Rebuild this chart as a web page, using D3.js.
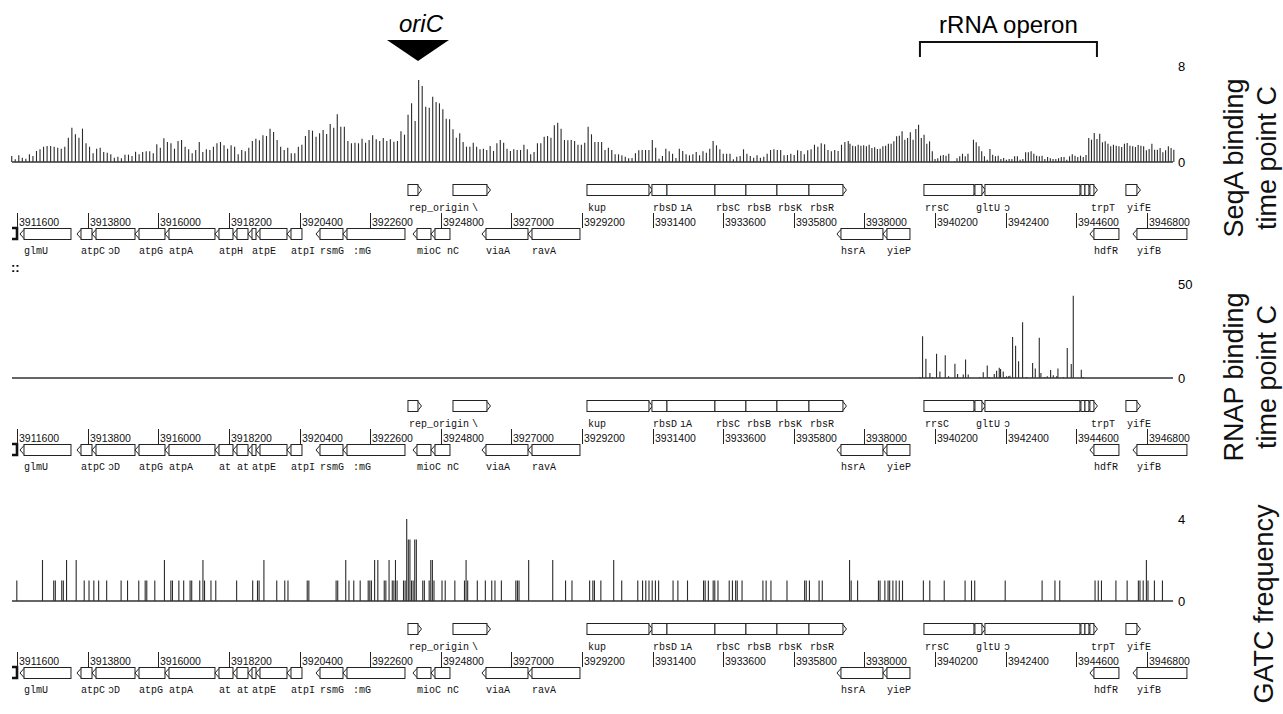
<!DOCTYPE html>
<html>
<head>
<meta charset="utf-8">
<script src="https://cdn.jsdelivr.net/npm/d3@7"></script>
<style>
body { margin: 0; background: #fff; }
svg text { font-family: "Liberation Sans", Arial, sans-serif; }
.gl { font-family: "Liberation Mono", "DejaVu Sans Mono", monospace; font-size: 10px; fill: #111; }
.tk { font-size: 10.5px; fill: #111; }
</style>
</head>
<body>
<svg id="chart" width="1283" height="714"></svg>
<script>
// genome window (bp) shown in all three tracks
var viewStart = 3911435, viewEnd = 3947614;
var coordTicks = [3911600, 3913800, 3916000, 3918200, 3920400, 3922600, 3924800, 3927000, 3929200,
	3931400, 3933600, 3935800, 3938000, 3940200, 3942400, 3944600, 3946800];

// top annotations
var oriCPos = 3924086;
var rrnOperon = [3939728, 3945244];

// SeqA ChIP signal, three probe stretches, each evenly spread over its span (bp)
var seqaSpans = [[3911426, 3924438], [3924545, 3937494], [3937547, 3947640]];
var seqaLeft = [0.50,0.22,0.56,0.36,0.28,0.64,0.50,0.92,1.06,1.28,
	1.33,1.33,1.28,1.19,1.11,1.28,2.03,2.86,2.31,2.03,
	2.78,1.56,1.28,0.72,1.11,1.19,0.83,0.78,0.64,0.36,
	0.44,0.31,0.61,0.61,0.50,0.86,0.64,0.83,0.89,0.89,
	0.72,1.47,1.19,1.97,1.67,1.56,1.11,1.75,1.83,1.28,
	1.06,0.72,1.00,1.67,0.83,1.06,1.00,1.28,1.56,1.67,
	1.39,1.11,1.39,1.28,0.64,1.00,0.89,1.19,1.75,1.94,
	1.81,2.22,2.17,2.78,2.50,1.83,1.28,1.00,1.19,0.72,
	0.72,1.28,1.44,2.17,2.67,2.61,2.11,2.39,2.67,2.33,
	3.17,2.86,3.97,2.94,2.94,1.75,1.56,1.61,1.56,1.94,
	1.61,1.83,2.22,1.89,1.75,2.00,1.75,1.89,1.69,1.75,
	2.56,2.28,3.94,4.89,3.42,6.83,6.33,4.61,4.53];
var seqaMid = [5.44,5.00,4.89,4.39,3.61,3.56,2.72,2.03,2.39,1.67,
	1.28,1.28,1.61,1.28,1.06,1.11,1.00,1.33,0.92,1.56,
	1.83,1.61,1.11,0.92,1.06,1.00,1.00,1.44,1.06,0.64,
	0.83,1.56,1.56,2.11,2.17,2.03,3.06,3.28,2.78,1.83,
	1.81,1.83,1.75,1.44,1.44,1.61,2.94,2.31,1.67,1.67,
	1.67,1.00,1.19,1.00,0.64,0.64,0.56,0.44,0.31,0.33,
	0.72,0.97,1.00,1.00,1.00,1.83,1.19,0.28,0.50,1.11,
	0.89,0.69,0.33,1.11,0.92,0.64,0.56,0.64,0.83,0.56,
	0.89,0.78,1.11,1.75,1.39,1.06,0.69,0.69,0.69,0.22,
	0.44,0.50,1.06,0.69,0.50,0.36,0.56,0.36,0.44,0.69,
	1.00,1.06,1.00,1.00,0.56,0.58,0.69,0.58,0.97,0.92,
	0.64,0.97,1.06,1.44,1.28,1.56,1.47,1.00,0.89,1.00,
	0.92,1.44,1.67,1.75];
var seqaRight = [1.53,1.36,1.31,1.44,1.36,1.39,1.31,1.44,1.17,1.22,
	1.08,1.11,1.31,1.36,1.53,1.53,1.72,2.14,2.19,2.56,
	1.86,2.00,2.47,1.86,2.75,3.11,2.00,2.28,1.53,1.72,
	0.89,0.25,0.31,0.53,0.58,0.53,0.69,0.03,0.06,0.31,
	0.47,0.69,0.47,0.69,0.06,1.86,1.64,1.31,0.89,0.47,
	0.19,1.08,0.61,0.47,0.53,0.25,0.33,0.19,0.25,0.25,
	0.47,0.47,0.19,0.25,0.81,0.81,0.89,0.69,0.53,0.47,
	0.53,0.25,0.42,0.31,0.25,0.25,0.31,0.42,0.42,0.19,
	0.47,0.64,0.53,0.42,0.53,0.42,0.58,2.00,1.86,2.42,
	1.92,2.36,1.64,1.72,1.53,1.31,1.44,1.36,1.31,1.25,
	1.53,1.58,1.36,1.31,1.25,1.42,1.36,1.31,0.97,1.08,
	1.53,1.03,1.03,1.17,0.81,0.97,1.31,1.17,1.03];

// RNAP ChIP signal (bp position, value)
var rnapPos = [3939727,3939810,3939914,3940039,3940122,3940246,3940350,3940517,3940620,3940818,
	3940901,3941078,3941150,3941233,3941597,3941701,3941826,3941888,3942044,3942117,
	3942200,3942241,3942324,3942376,3942428,3942491,3942532,3942615,3942709,3942802,
	3942927,3943052,3943239,3943322,3943447,3943498,3943623,3943696,3943800,3943883,
	3943987,3944028,3944195,3944319,3944444,3944506,3944756,3944818];
var rnapVal = [0.5,22.2,10.3,2.7,0.5,12.9,3.4,12.1,0.9,7.6,
	2.1,1.8,9.8,1.8,0.4,3.0,6.6,0.5,2.1,3.9,
	5.5,4.8,3.4,0.5,0.9,0.9,1.2,21.8,17.2,8.9,
	29.6,0.5,8.0,5.1,21.4,2.7,0.5,0.9,4.3,1.4,
	0.9,5.1,0.5,16.0,7.4,43.8,4.4,0.5];

// GATC sites per 50 bp window (window index from viewStart, count)
var gatcWindow = 50;
var gatcBins = [3,19,26,27,31,32,34,40,45,48,51,54,59,68,72,79,83,84,89,95,
	99,100,104,107,111,112,117,119,120,124,127,140,150,153,154,157,165,170,172,184,
	185,202,203,208,210,213,217,222,223,224,226,228,232,233,235,237,238,239,240,244,
	245,246,247,248,249,250,251,252,256,257,260,261,262,263,268,270,276,282,283,284,
	290,295,299,301,305,314,315,316,322,337,345,349,360,362,363,367,375,380,390,393,
	395,397,399,401,403,412,415,421,431,432,434,437,438,440,447,449,451,452,455,468,
	470,473,483,494,495,497,503,505,522,523,527,540,541,544,546,547,549,551,553,555,
	568,572,581,594,598,600,619,642,650,653,675,677,679,688,695,702,703,705,707,708,
	712,717];
var gatcCount = [1,2,1,1,1,1,2,2,1,1,1,1,1,1,1,1,1,1,1,2,
	1,1,1,1,1,1,1,2,1,1,1,1,1,1,1,2,1,1,1,1,
	1,1,1,2,1,1,1,1,1,1,2,2,1,1,2,1,1,2,1,1,
	1,4,3,3,1,1,3,3,1,1,1,2,2,1,1,1,1,1,2,1,
	1,1,1,1,1,1,1,1,2,2,1,1,1,1,1,1,2,1,1,1,
	1,1,1,1,1,1,1,1,1,1,1,1,1,1,1,1,1,1,1,1,
	1,1,1,1,1,1,1,1,2,1,1,1,1,1,1,1,1,1,1,1,
	1,1,1,1,1,1,1,1,1,1,1,1,1,1,1,1,1,1,2,1,
	1,1];

// annotation: forward-strand genes (upper row) and reverse-strand genes (lower row)
// shown labels keep leading blanks where the browser clipped the start of a name
var upperGenes = [["rep_origin",3923774,3924086],["asnA",3925177,3926236],["kup",3929352,3931284],
	["rbsD",3931377,3931845],["rbsA",3931845,3933340],["rbsC",3933340,3934306],["rbsB",3934306,3935272],
	["rbsK",3935272,3936270],["rbsR",3936270,3937329],["rrsC",3939853,3941411],["gltU",3941442,3941660],
	["rrlC",3941754,3944714],["rrfC",3944745,3944870],["aspT",3944870,3944994],["trpT",3945025,3945150],
	["yifE",3946147,3946490]];
var upperShown = ["rep_origin","   \\","kup","rbsD","  \u0131A","rbsC","rbsB","rbsK","rbsR","rrsC","gltU","   \u0254","","","trpT","yifE"];

var lowerGenes = [["",3911435,3911591,"clipped"],["glmU",3911684,3913273],["atpC",3913460,3913928],
	["atpD",3913928,3915268],["atpG",3915268,3916202],["atpA",3916202,3917760],["atpH",3917760,3918321],
	["atpF",3918321,3918789],["atpE",3918789,3919038],["atpB",3919038,3920004],["atpI",3920004,3920471],
	["rsmG",3920908,3921749],["mnmG",3921749,3923681],["mioC",3923930,3924491],["asnC",3924491,3925083],
	["viaA",3926080,3927514],["ravA",3927514,3929134],["hsrA",3937142,3938575],["yieP",3938575,3939417],
	["hdfR",3945025,3945929],["yifB",3946365,3948048]];
var lowerShownSeqA = ["","glmU","atpC","  \u0254D","atpG","atpA","atpH","","atpE","","atpI","rsmG"," :mG","mioC","  nC","viaA","ravA","hsrA","yieP","hdfR","yifB"];
var lowerShownOther = ["","glmU","atpC","  \u0254D","atpG","atpA","at","at","atpE","","atpI","rsmG"," :mG","mioC","  nC","viaA","ravA","hsrA","yieP","hdfR","yifB"];

var trackMax = [8, 50, 4];
var trackTitles = [["SeqA binding", "time point C"], ["RNAP binding", "time point C"], ["GATC frequency"]];

var svg = d3.select("#chart");
svg.append("rect").attr("width", 1283).attr("height", 714).attr("fill", "#fff");

var x = d3.scaleLinear().domain([viewStart, viewEnd]).range([12, 1173]);
var charW = 6; // monospace advance at 10px

// layout of the three tracks
var tracks = [
	{ base: 162, top: 66, titleY: 158, titleX: [1243, 1276], shown: lowerShownSeqA },
	{ base: 378, top: 284, titleY: 377, titleX: [1243, 1276], shown: lowerShownOther },
	{ base: 601, top: 519, titleY: 604, titleX: [1273], shown: lowerShownOther }
];
tracks.forEach(function (t, i) {
	t.y = d3.scaleLinear().domain([0, trackMax[i]]).range([t.base, t.top]);
});

// SeqA bars
var seqaBars = [];
[seqaLeft, seqaMid, seqaRight].forEach(function (vals, s) {
	var pos = d3.scaleLinear().domain([0, vals.length - 1]).range(seqaSpans[s]);
	vals.forEach(function (v, i) { seqaBars.push({ pos: pos(i), val: v }); });
});
var rnapBars = rnapPos.map(function (p, i) { return { pos: p, val: rnapVal[i] }; });
var gatcBars = gatcBins.map(function (b, i) { return { pos: viewStart + b * gatcWindow, val: gatcCount[i] }; });

[seqaBars, rnapBars, gatcBars].forEach(function (bars, i) {
	var t = tracks[i];
	var g = svg.append("g");
	g.selectAll("line.bar")
		.data(bars)
		.enter()
		.append("line")
		.attr("class", "bar")
		.attr("x1", function (d) { return x(d.pos); })
		.attr("x2", function (d) { return x(d.pos); })
		.attr("y1", t.base)
		.attr("y2", function (d) { return t.y(d.val); })
		.attr("stroke", "#2b2b2b")
		.attr("stroke-width", 1.1);

	// baseline
	g.append("line")
		.attr("x1", x(viewStart)).attr("x2", x(viewEnd))
		.attr("y1", t.base).attr("y2", t.base)
		.attr("stroke", "#333").attr("stroke-width", 1.3);

	// scale labels
	g.append("text").attr("x", 1178).attr("y", t.top + 5).attr("font-size", 13).text(trackMax[i]);
	g.append("text").attr("x", 1178).attr("y", t.base + 5).attr("font-size", 13).text(0);

	// rotated titles
	trackTitles[i].forEach(function (line, k) {
		g.append("text")
			.attr("transform", "translate(" + t.titleX[k] + "," + t.titleY + ") rotate(-90)")
			.attr("text-anchor", "middle")
			.attr("font-size", 27)
			.attr("fill", "#111")
			.text(line);
	});

	drawAnnotation(svg.append("g"), t);
});

function drawAnnotation(g, t) {
	geneRow(g, upperGenes, upperShown, t.base + 22, true, t.base + 49);
	geneRow(g, lowerGenes, t.shown, t.base + 66, false, t.base + 92);

	// coordinate ticks
	coordTicks.forEach(function (c) {
		var cx = Math.round(x(c)) + 0.5;
		g.append("line")
			.attr("x1", cx).attr("x2", cx)
			.attr("y1", t.base + 51).attr("y2", t.base + 66)
			.attr("stroke", "#222").attr("stroke-width", 1);
		g.append("text").attr("class", "tk")
			.attr("x", cx + 1.5).attr("y", t.base + 63.5)
			.text(c);
	});
}

function geneRow(g, genes, shown, y0, forward, labelY) {
	var h = 11, mid = y0 + h / 2;
	genes.forEach(function (d, i) {
		var x1 = x(d[1]), x2 = x(d[2]);
		if (d[3] === "clipped") {
			g.append("path")
				.attr("d", "M" + x1 + "," + y0 + "H" + x2 + "V" + (y0 + h) + "H" + x1)
				.attr("fill", "none").attr("stroke", "#111").attr("stroke-width", 2.6);
			return;
		}
		var rx = forward ? x1 : x1 + 4;
		g.append("rect")
			.attr("x", rx).attr("y", y0 + 0.5)
			.attr("width", Math.max(x2 - rx, 1)).attr("height", h)
			.attr("fill", "#fff").attr("stroke", "#222").attr("stroke-width", 1);
		var chev = forward
			? "M" + x2 + "," + (y0 + 1.5) + "L" + (x2 + 3.5) + "," + (mid + 0.5) + "L" + x2 + "," + (y0 + h - 0.5)
			: "M" + (x1 + 4) + "," + (y0 + 1.5) + "L" + x1 + "," + (mid + 0.5) + "L" + (x1 + 4) + "," + (y0 + h - 0.5);
		g.append("path").attr("d", chev).attr("fill", "none").attr("stroke", "#222").attr("stroke-width", 1);
		var s = shown[i];
		if (s) {
			var lead = s.length - s.replace(/^ +/, "").length;
			g.append("text").attr("class", "gl")
				.attr("x", (forward ? x1 + 1 : x1 + 4) + lead * charW)
				.attr("y", labelY)
				.attr("fill", "#111")
				.text(s.replace(/^ +/, ""));
		}
	});
}

// oriC marker
svg.append("text")
	.attr("x", x(oriCPos) + 3).attr("y", 32)
	.attr("text-anchor", "middle")
	.attr("font-size", 24).attr("font-style", "italic")
	.text("oriC");
svg.append("path")
	.attr("d", "M" + (x(oriCPos) - 31) + ",40H" + (x(oriCPos) + 31) + "L" + x(oriCPos) + ",61Z")
	.attr("fill", "#000");

// rRNA operon bracket
svg.append("path")
	.attr("d", "M" + x(rrnOperon[0]) + ",57V42H" + x(rrnOperon[1]) + "V57")
	.attr("fill", "none").attr("stroke", "#111").attr("stroke-width", 2);
svg.append("text")
	.attr("x", (x(rrnOperon[0]) + x(rrnOperon[1])) / 2).attr("y", 33)
	.attr("text-anchor", "middle").attr("font-size", 24)
	.text("rRNA operon");

// stray marks at the left of the RNAP panel
svg.append("text").attr("x", 11).attr("y", 272).attr("font-size", 13).attr("font-weight", "bold").text("::");
</script>
</body>
</html>
